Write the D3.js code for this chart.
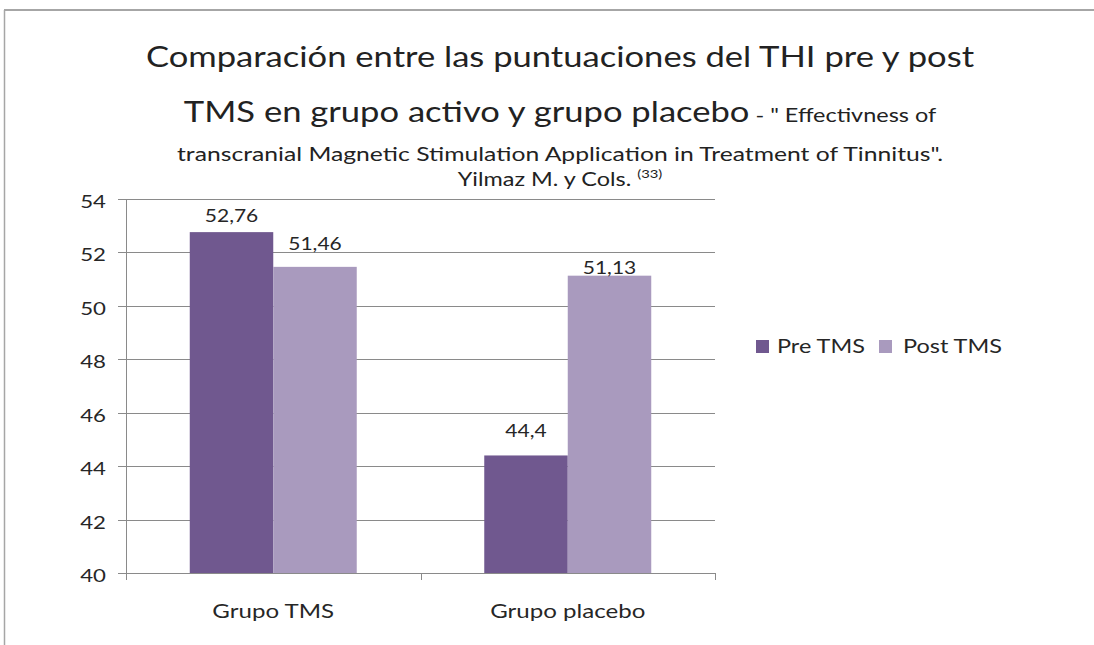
<!DOCTYPE html>
<html><head><meta charset="utf-8">
<script src="https://cdn.jsdelivr.net/npm/d3@7"></script>
<style>body{margin:0;background:#fff}svg{display:block}text{font-family:Lato,"Open Sans",sans-serif}</style>
</head><body>
<svg id="c" width="1094" height="645"></svg>
<script>
const categories = ["Grupo TMS", "Grupo placebo"];
const series = ["Pre TMS", "Post TMS"];
const preValues = [52.76, 44.4];
const postValues = [51.46, 51.13];
const valueLabels = [["52,76", "44,4"], ["51,46", "51,13"]];
const yTicks = [40, 42, 44, 46, 48, 50, 52, 54];
const colors = ["#70588F", "#A99ABE"];
// layout nudges for data labels (gap above bar top, px) [series][category]
const labelGap = [[10, 18], [17, 2]];

const svg = d3.select("#c");
svg.append("rect").attr("width",1094).attr("height",645).attr("fill","#fff");
// outer frame (top + left visible)
svg.append("line").attr("x1",4).attr("x2",1094).attr("y1",10).attr("y2",10).attr("stroke","#a6a6a6").attr("stroke-width",2);
svg.append("line").attr("x1",4.5).attr("x2",4.5).attr("y1",10).attr("y2",645).attr("stroke","#a6a6a6").attr("stroke-width",1.5);

const X0 = 126, X1 = 715, Y0 = 573, Y1 = 199;
const x = d3.scaleBand().domain(categories).range([X0, X1]).paddingInner(0.433).paddingOuter(0.2165);
const xs = d3.scaleBand().domain(series).range([0, x.bandwidth()]).padding(0);
const y = d3.scaleLinear().domain([40, 54]).range([Y0, Y1]);
const stepX = d3.scaleBand().domain(categories).range([X0, X1]).padding(0);

const SX = 1.235;
function txt(g, xpos, ypos, anchor){
  return g.append("text").attr("transform", `translate(${xpos},${ypos}) scale(${SX},1)`).attr("text-anchor", anchor);
}

// gridlines
svg.append("g").selectAll("line").data(yTicks).join("line")
  .attr("x1", 118).attr("x2", X1).attr("y1", d => Math.round(y(d))+0.5).attr("y2", d => Math.round(y(d))+0.5)
  .attr("stroke", "#8a8a8a").attr("stroke-width", 1);
// y axis line
svg.append("line").attr("x1", X0+0.5).attr("x2", X0+0.5).attr("y1", Y1).attr("y2", Y0+7).attr("stroke","#8a8a8a");
// x ticks at band boundaries
const bounds = [X0, X0 + stepX.step(), X1];
svg.append("g").selectAll("line").data(bounds).join("line")
  .attr("x1", d => Math.round(d)+0.5).attr("x2", d => Math.round(d)+0.5).attr("y1", Y0).attr("y2", Y0+7).attr("stroke","#8a8a8a");

// y labels
const yl = svg.append("g");
yTicks.forEach(t => {
  txt(yl, 106, Math.round(y(t)) + 9, "end").attr("font-size", 18).attr("fill", "#262626").text(t);
});

// bars
const data = [preValues, postValues];
series.forEach((s, si) => {
  categories.forEach((c, ci) => {
    const v = data[si][ci];
    const bx = x(c) + xs(s);
    svg.append("rect").attr("x", bx).attr("y", y(v)).attr("width", xs.bandwidth()).attr("height", Y0 - y(v))
      .attr("fill", colors[si]);
    txt(svg, bx + xs.bandwidth()/2, y(v) - labelGap[si][ci], "middle")
      .attr("font-size", 17).attr("fill", "#262626").text(valueLabels[si][ci]);
  });
});

// x labels
categories.forEach(c => {
  txt(svg, x(c) + x.bandwidth()/2, 618, "middle").attr("font-size", 19.5).attr("fill", "#262626").text(c);
});

// legend
const legX = [756, 879], legTX = [777, 903];
series.forEach((s, i) => {
  svg.append("rect").attr("x", legX[i]).attr("y", 340).attr("width", 13).attr("height", 13).attr("fill", colors[i]);
  txt(svg, legTX[i], 353, "start").attr("font-size", 19).attr("fill", "#262626").text(s);
});

// title
const TC = 560;
const t1 = txt(svg, TC, 67, "middle").attr("font-size", 28).attr("fill", "#222");
t1.text("Comparación entre las puntuaciones del THI pre y post");
const t2 = txt(svg, TC, 122, "middle").attr("fill", "#222");
t2.append("tspan").attr("font-size", 28).text("TMS en grupo activo y grupo placebo");
t2.append("tspan").attr("font-size", 19).text(" - \" Effectivness of");
txt(svg, TC, 161, "middle").attr("font-size", 20).attr("fill", "#222")
  .text("transcranial Magnetic Stimulation Application in Treatment of Tinnitus\".");
const t4 = txt(svg, TC, 186, "middle").attr("font-size", 19).attr("fill", "#222");
t4.append("tspan").text("Yilmaz M. y Cols. ");
t4.append("tspan").attr("font-size", 12).attr("dy", -8).text("(33)");
</script>
</body></html>
